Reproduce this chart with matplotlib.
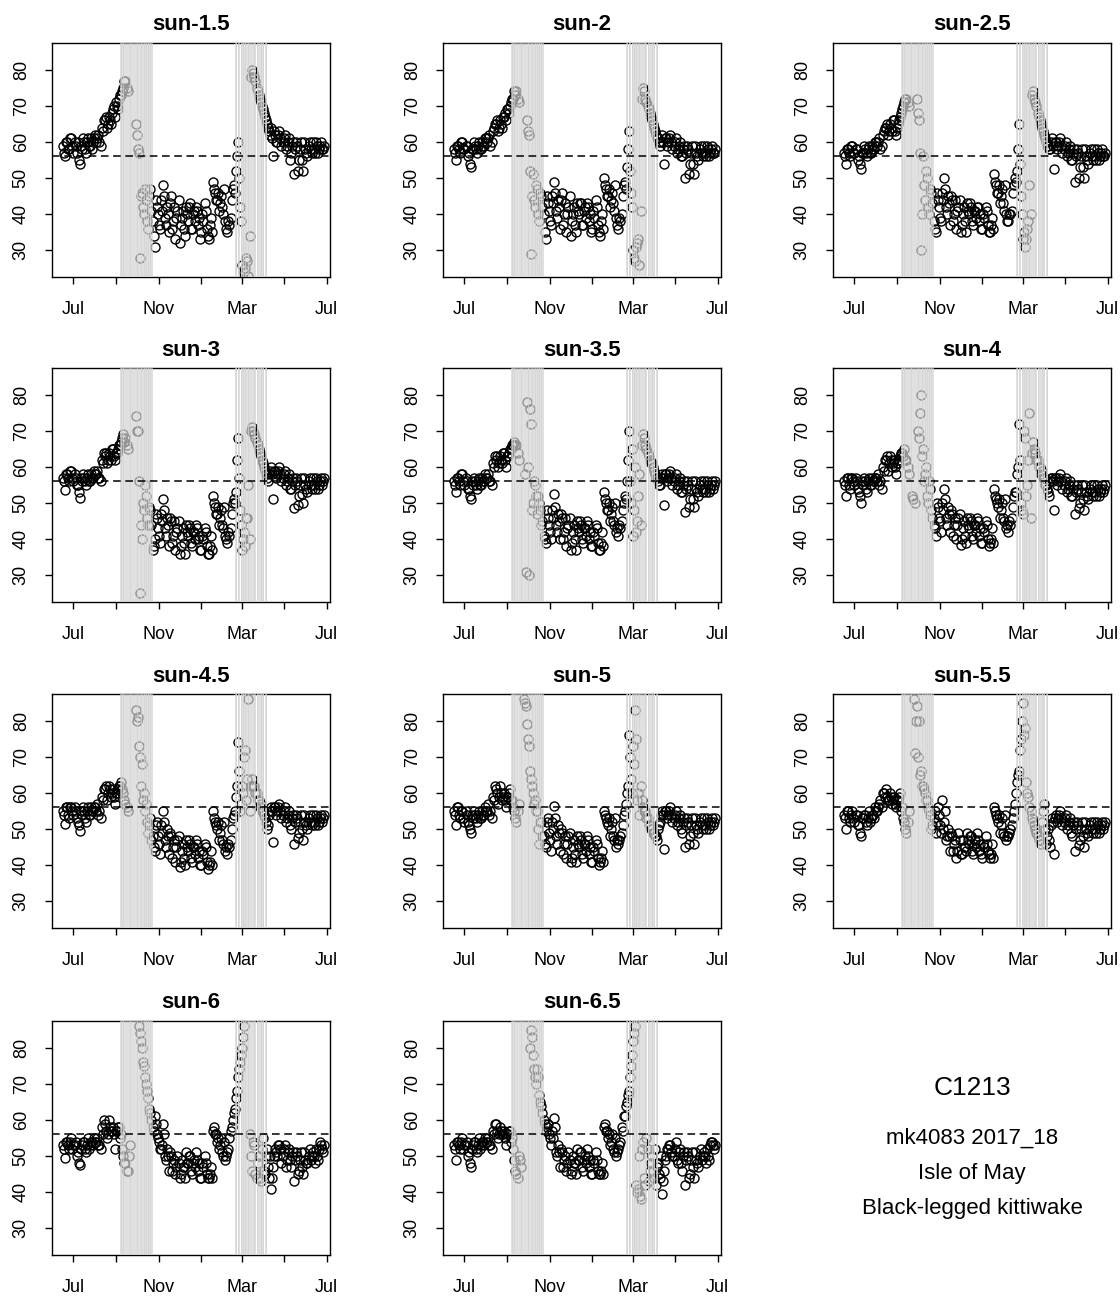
import numpy as np
import pandas as pd
import matplotlib
matplotlib.use("Agg")
import matplotlib.pyplot as plt

plt.rcParams['font.family'] = ['Liberation Sans', 'DejaVu Sans']

nan = np.nan

# two estimates every 3 days (twilight a / twilight b), 16 Jun 2017 .. 27 Jun 2018
dates_a = pd.date_range('2017-06-16', periods=126, freq='3D')
dates_b = pd.date_range('2017-06-17 12:00', periods=126, freq='3D')

titles = ['sun-1.5', 'sun-2', 'sun-2.5', 'sun-3', 'sun-3.5', 'sun-4',
          'sun-4.5', 'sun-5', 'sun-5.5', 'sun-6', 'sun-6.5']

sun_1_5_a = [59, 56, 60, 58, 61, 57, 59, 60, 54, 58,
             60, 57, 61, 59, 58, 61, 60, 62, 59, 63,
             66, 64, 67, 65, 69, 67, 70, 72, 73, 75,
             77, 74, nan, nan, nan, 65, 58, 28, 46, 40,
             44, 36, 47, 38, 31, 42, 37, 44, 48, 39,
             42, 35, 45, 38, 33, 41, 32, 39, 36, 42,
             38, 43, 36, 41, 42, 37, 33, 40, 43, 36,
             33, 39, 49, 46, 44, 41, 45, 40, 38, 35,
             37, 44, 48, 52, 60, 42, 26, 24, 28, 23,
             34, 80, 78, 75, 73, 71, 69, 67, 65, 63,
             64, 56, 62, 60, 63, 59, 61, 58, 60, 55,
             59, 51, 60, 52, 58, 55, 60, 57, 59, 58,
             60, 57, 59, 58, 60, 58]
sun_1_5_b = [57, 60, 58, 61, 59, 60, 57, 55, 59, 61,
             58, 60, 59, 61, 60, 62, 61, 60, 64, 66,
             67, 65, 66, 68, 70, 71, 69, 73, 74, 77,
             75, nan, nan, nan, nan, 62, 57, 45, 42, 47,
             38, 45, 41, 34, 44, 40, 36, 41, 45, 37,
             40, 43, 36, 42, 39, 44, 37, 41, 34, 40,
             42, 36, 40, 38, 41, 39, 35, 38, 41, 34,
             37, 35, 47, 44, 46, 43, 42, 47, 36, 38,
             39, 47, 46, 56, 50, 38, 22, 25, 27, nan,
             78, 79, 77, 74, 72, 70, 68, 66, 64, 62,
             61, 63, 60, 62, 61, 60, 62, 59, 61, 57,
             60, 58, 59, 55, 60, 52, 58, 56, 60, 57,
             58, 60, 57, 59, 58, 59]

sun_2_a = [58, 55, 59, 57, 60, 58, 59, 57, 53, 58,
           59, 57, 60, 58, 59, 61, 60, 62, 60, 64,
           65, 63, 66, 64, 67, 66, 69, 70, 72, 74,
           74, 71, nan, nan, nan, 66, 62, 29, 51, 42,
           47, 38, 45, 40, 33, 43, 38, 45, 49, 41,
           44, 36, 46, 40, 35, 42, 34, 40, 37, 43,
           40, 43, 37, 42, 43, 38, 35, 41, 44, 37,
           34, 40, 50, 47, 45, 42, 46, 41, 39, 36,
           38, 45, 49, 53, 63, 46, 30, 27, 32, 26,
           41, 75, 72, 70, 68, 66, 64, 62, 61, 59,
           62, 54, 61, 60, 62, 58, 60, 57, 59, 56,
           58, 50, 59, 51, 57, 54, 59, 56, 58, 57,
           59, 56, 58, 57, 59, 57]
sun_2_b = [57, 59, 58, 60, 58, 59, 56, 54, 58, 60,
           58, 59, 58, 60, 59, 61, 61, 59, 63, 65,
           66, 64, 65, 67, 68, 69, 68, 71, 72, 73,
           72, nan, nan, nan, nan, 63, 52, 45, 44, 48,
           40, 46, 42, 35, 45, 41, 37, 43, 46, 39,
           42, 44, 37, 43, 40, 45, 38, 42, 35, 41,
           43, 37, 41, 39, 42, 40, 36, 39, 42, 35,
           38, 36, 48, 45, 47, 44, 43, 48, 37, 39,
           40, 48, 47, 58, 52, 42, 28, 31, 33, nan,
           72, 74, 71, 69, 67, 65, 63, 61, 60, 60,
           60, 61, 59, 61, 60, 59, 61, 58, 60, 56,
           59, 57, 58, 54, 59, 51, 57, 55, 59, 56,
           57, 59, 56, 58, 57, 58]

sun_2_5_a = [57, 54, 58, 56, 59, 57, 58, 56, 52.5, 57,
             58, 56, 59, 57, 58, 60, 59, 61, 59, 63,
             64, 62, 65, 63, 66, 62, 65, 67, 69, 71,
             72, 70, nan, nan, nan, 72, 66, 30, 56, 44,
             50, 40, 46, 38, 35, 44, 39, 46, 50, 42,
             45, 37, 44, 40, 36, 42, 35, 40, 38, 43,
             40, 42, 37, 41, 42, 38, 36, 40, 42, 37,
             35, 39, 51, 48, 46, 43, 47, 41, 40, 38,
             40, 46, 50, 52, 65, 45, 33, 31, 36, 48,
             40, 74, 71, 68, 66, 64, 62, 60, 59, 58,
             61, 52.5, 60, 59, 61, 57, 59, 56, 58, 55,
             57, 49, 58, 50, 56, 53, 58, 55, 57, 56,
             58, 55, 57, 56, 58, 56]
sun_2_5_b = [56, 58, 57, 59, 57, 58, 55, 54, 57, 59,
             57, 58, 57, 59, 58, 60, 60, 58, 62, 64,
             65, 63, 64, 66, 63, 64, 66, 68, 70, 72,
             71, nan, nan, nan, nan, 68, 57, 40, 48, 52,
             42, 47, 43, 36, 46, 42, 38, 44, 47, 40,
             43, 45, 38, 44, 41, 44, 37, 42, 35, 41,
             43, 38, 41, 39, 42, 40, 36, 39, 41, 35,
             37, 36, 49, 46, 48, 45, 43, 48, 38, 40,
             41, 48, 49, 58, 54, 40, 35, 33, 38, nan,
             73, 72, 70, 67, 65, 63, 61, 59, 58, 60,
             59, 60, 58, 60, 59, 58, 60, 57, 59, 55,
             58, 56, 57, 53, 58, 50, 56, 54, 58, 55,
             56, 58, 55, 57, 56, 57]

sun_3_a = [57, 53.5, 58, 56, 59, 56, 57, 55, 51.5, 56,
           57, 55, 58, 56, 57, 59, 58, 57, 56, 61,
           63, 61, 64, 62, 65, 62, 64, 66, 67, 69,
           68, 65, nan, nan, nan, 74, 70, 25, 40, 48,
           52, 44, 48, 37, 40, 46, 41, 47, 51, 43,
           46, 38, 45, 41, 37, 43, 36, 41, 39, 44,
           41, 43, 38, 42, 44, 40, 37, 41, 43, 38,
           36, 41, 52, 49, 47, 44, 48, 43, 41, 39,
           41, 47, 51, 53, 68, 48, 37, 42, 46, 55,
           40, 71, 69, 67, 65, 63, 61, 59, 57, 58,
           60, 51, 59, 58, 60, 56, 58, 55, 57, 54,
           56, 48.5, 57, 49.5, 55, 52.5, 57, 54, 56, 55,
           57, 54, 56, 55, 57, 56]
sun_3_b = [56, 58, 57, 59, 57, 58, 55, 53, 57, 58,
           56, 57, 56, 58, 57, 58, 59, 57, 62, 64,
           64, 62, 63, 65, 63, 64, 65, 66, 68, 67,
           66, nan, nan, nan, nan, 70, 56, 44, 50, 55,
           46, 49, 44, 38, 47, 43, 39, 45, 48, 41,
           44, 46, 39, 45, 42, 45, 38, 43, 36, 42,
           44, 39, 42, 40, 43, 41, 37, 40, 42, 36,
           38, 37, 50, 47, 49, 46, 44, 49, 40, 42,
           43, 50, 50, 62, 57, 44, 40, 38, 46, nan,
           70, 70, 68, 66, 64, 62, 60, 58, 56, 59,
           58, 59, 57, 59, 58, 57, 59, 56, 58, 54,
           57, 55, 56, 52, 57, 50, 55, 53, 57, 54,
           55, 57, 54, 56, 55, 57]

sun_3_5_a = [56, 53, 57, 55, 58, 55, 56, 54, 51, 55,
             56, 54, 57, 55, 56, 58, 57, 56, 55, 60,
             62, 60, 63, 61, 64, 60, 63, 65, 66, 67,
             66, 62, nan, nan, 58, 78, 30, 72, 50, 55,
             47, 50, 44, 41, 39, 46, 42, 48, 52.5, 44,
             47, 40, 46, 42, 38, 44, 37, 42, 40, 45,
             42, 44, 39, 43, 45, 40, 38, 42, 44, 39,
             37, 42, 53, 50, 48, 45, 49, 44, 42, 41,
             43, 48, 52, 56, 70, 50, 41, 60, 45, 58,
             44, 69, 66, 64, 62, 61, 59, 57, 56, 55,
             58, 49.5, 58, 57, 59, 55, 57, 54, 56, 53,
             55, 47.5, 56, 49, 54, 51, 56, 53, 55, 54,
             56, 53, 55, 54, 56, 55]
sun_3_5_b = [55, 57, 56, 58, 56, 57, 54, 52, 56, 57,
             55, 56, 55, 57, 56, 57, 58, 56, 61, 63,
             63, 61, 62, 64, 62, 63, 64, 65, 66, 66,
             64, nan, nan, nan, 31, 60, 76, 48, 56, 52,
             52, 48, 45, 40, 48, 44, 40, 46, 49, 42,
             45, 47, 40, 46, 43, 46, 39, 44, 37, 43,
             45, 40, 43, 41, 44, 42, 38, 41, 43, 37,
             39, 38, 51, 48, 50, 47, 45, 50, 43, 44,
             45, 50, 51, 62, 56, 65, 48, 42, 52, nan,
             66, 68, 65, 63, 61, 60, 58, 57, 55, 57,
             57, 58, 56, 58, 57, 56, 58, 55, 57, 53,
             56, 54, 55, 51, 56, 49, 54, 52, 56, 53,
             54, 56, 53, 55, 54, 56]

sun_4_a = [56, 52, 57, 54, 57, 55, 56, 53, 50, 55,
           56, 53, 57, 55, 56, 57, 56, 55, 54, 59,
           62, 59, 63, 60, 62, 58, 61, 63, 64, 65,
           62, 58, nan, 51, 50, nan, 68, 80, 65, 58,
           52, 56, 48, 44, 41, 49, 45, 50, 54, 46,
           49, 42, 47, 44, 40, 46, 38.5, 43, 41, 46,
           43, 45, 40, 44, 46, 41, 39, 43, 45, 40,
           39, 43, 54, 51, 49, 46, 50, 45, 43, 42,
           44, 49, 53, 58, 72, 50, 47, 68, 55, 75,
           46, 67, 64, 62, 60, 59, 57, 55, 53, 56,
           57, 48, 57, 56, 58, 54, 56, 53, 55, 52,
           54, 47, 55, 48.5, 53, 51, 55, 52, 54, 53,
           55, 52, 54, 53, 55, 54]
sun_4_b = [55, 57, 55, 57, 56, 57, 54, 52, 56, 57,
           54, 56, 55, 57, 56, 57, 58, 56, 60, 62,
           63, 61, 62, 61, 60, 61, 62, 64, 63, 62,
           60, nan, 52, nan, nan, 70, 75, 63, 56, 60,
           50, 54, 46, 43, 50, 46, 42, 48, 51, 44,
           47, 48, 41, 46, 44, 47, 40, 45, 39, 44,
           46, 41, 44, 42, 45, 43, 39, 42, 44, 38,
           40, 39, 52, 50, 51, 48, 46, 51, 44, 45,
           46, 52, 53, 60, 62, 48, 70, 52, 62, nan,
           64, 65, 62, 60, 58, 57, 55, 54, 52, 57,
           56, 57, 55, 57, 56, 55, 57, 54, 56, 52,
           55, 53, 54, 50, 55, 48, 53, 51, 55, 52,
           53, 55, 52, 54, 53, 55]

sun_4_5_a = [55, 51.5, 56, 53, 56, 54, 55, 52, 49.5, 54,
             55, 52, 56, 54, 55, 56, 55, 54, 53, 58,
             61, 58, 62, 59, 61, 57, 60, 62, 63, 60,
             57, 55, nan, nan, nan, 83, 81, 70, 68, 60,
             57, 49, 53, 48, 44, 52, 46, 51, 55, 47,
             50, 43, 48, 45, 41, 47, 39.5, 44, 42, 47,
             44, 46, 41, 45, 47, 42, 40, 44, 46, 41,
             40, 44, 55, 52, 50, 47, 51, 46, 44, 43,
             45, 50, 54, 59, 74, 55, 62, 70, 58, 86,
             55, 64, 62, 60, 58, 57, 55, 53, 50, 54,
             56, 46.5, 56, 55, 57, 53, 55, 52, 54, 51,
             53, 46, 54, 47.5, 52, 50, 54, 51, 53, 52,
             54, 51, 53, 52, 54, 53]
sun_4_5_b = [54, 56, 54, 56, 55, 56, 53, 51, 55, 56,
             53, 55, 54, 56, 55, 56, 57, 55, 59, 61,
             62, 60, 61, 60, 59, 60, 61, 62, 61, 58,
             56, nan, nan, nan, nan, 80, 73, 62, 58, 55,
             52, 51, 47, 45, 51, 48, 43, 49, 52, 45,
             48, 49, 42, 47, 45, 48, 41, 46, 40, 45,
             47, 42, 45, 43, 46, 44, 40, 43, 45, 39,
             41, 40, 53, 51, 52, 49, 47, 52, 45, 46,
             47, 53, 55, 62, 66, 57, 60, 72, 64, nan,
             62, 62, 60, 58, 56, 55, 54, 52, 51, 55,
             55, 56, 54, 56, 55, 54, 56, 53, 55, 50,
             54, 52, 53, 49, 54, 47, 52, 50, 54, 51,
             52, 54, 51, 53, 52, 54]

sun_5_a = [55, 51, 56, 53, 55, 52, 54, 51, 49, 53,
           54, 52, 55, 53, 54, 56, 55, 54, 53, 58,
           61, 57, 62, 58, 60, 56, 59, 61, 58, 55,
           52, 57, nan, nan, 85, 79, 73, 64, 60, 58,
           55, 46, 52, 48, 45, 53, 47, 52, 56.5, 48,
           51, 44, 49, 46, 42, 48, 41, 45, 43, 48,
           45, 47, 42, 46, 48, 43, 41, 45, 47, 42,
           41, 44, 55, 53, 51, 48, 52, 47, 45, 46,
           48, 51, 55, 60, 76, 64, 73, 83, 58, 54,
           62, 56, 55, 53, 51, 50, 49, 48, 50, 52,
           55, 44.5, 55, 54, 56, 52, 54, 51, 53, 50,
           52, 45, 53, 46, 51, 49, 53, 50, 52, 51,
           53, 50, 52, 51, 53, 52]
sun_5_b = [54, 56, 54, 55, 53, 55, 52, 50, 54, 55,
           53, 54, 53, 55, 54, 55, 57, 55, 59, 62,
           60, 59, 60, 59, 58, 59, 60, 58, 56, 53,
           55, nan, nan, 86, 84, 75, 66, 62, 57, 55,
           50, 52, 48, 46, 52, 49, 44, 50, 53, 46,
           49, 50, 43, 48, 46, 49, 42, 47, 41, 46,
           48, 43, 46, 44, 47, 45, 41, 44, 46, 40,
           42, 41, 54, 52, 53, 50, 48, 53, 47, 47,
           49, 54, 57, 62, 70, 60, 68, 75, 60, nan,
           58, 55, 53, 51, 50, 49, 48, 47, 51, 54,
           54, 55, 53, 55, 54, 53, 55, 52, 54, 49,
           53, 51, 52, 48, 53, 46, 51, 49, 53, 50,
           51, 53, 50, 52, 51, 53]

sun_5_5_a = [54, 50, 55, 52, 55, 52, 54, 51, 48, 53,
             54, 51, 55, 53, 54, 56, 55, 57, 56, 60,
             61, 58, 60, 57, 59, 56, 58, 60, 56, 52,
             49, 55, nan, nan, 71, 84, 80, 66, 62, 60,
             58, 55, 50, 53, 49, 56, 51, 58, 52, 47,
             50, 44, 48, 46, 42, 49, 43, 47, 45, 49,
             46, 48, 43, 47, 49, 44, 43, 46, 48, 44,
             42, 46, 56, 54, 52, 49, 53, 48, 47, 48,
             50, 53, 57, 63, 66, 75, 85, 78, 60, 56,
             55, 52, 50, 48, 47, 52, 57, 46, 50, 45,
             53, 43, 54, 53, 55, 51, 53, 50, 52, 49,
             51, 44, 52, 45.5, 50, 48, 52, 49, 51, 50,
             52, 49, 51, 50, 52, 51]
sun_5_5_b = [53, 55, 53, 54, 53, 54, 51, 49, 53, 54,
             52, 53, 52, 54, 53, 55, 56, 58, 60, 59,
             59, 58, 59, 58, 57, 58, 59, 55, 53, 50,
             52, nan, nan, 86, 80, 70, 65, 62, 61, 58,
             56, 54, 51, 55, 52, 54, 49, 50, 55, 48,
             48, 49, 44, 47, 44, 47, 43, 45, 44, 47,
             48, 44, 46, 45, 47, 46, 42, 45, 46, 43,
             43, 42, 55, 53, 54, 51, 49, 54, 48, 49,
             51, 55, 60, 65, 72, 80, 76, 63, 59, nan,
             53, 51, 49, 47, 46, 55, 50, 48, 47, 51,
             52, 53, 52, 54, 53, 52, 54, 51, 53, 48,
             52, 50, 51, 47, 52, 45, 50, 48, 52, 49,
             50, 52, 49, 51, 50, 52]

sun_6_a = [53, 49.5, 54, 52, 55, 53, 54, 51, 47.5, 53,
           54, 51, 55, 53, 54, 55, 54, 53, 52, 56,
           59, 55, 60, 57, 58, 52, 57, 58, 56, 50,
           48, 46, 53, nan, nan, nan, nan, 84, 80, 75,
           70, 66, 62, 58, 61, 56, 54, 52, 59, 50,
           52, 46, 50, 48, 45, 50, 44, 49, 47, 51,
           48, 50, 45, 49, 51, 46, 44, 48, 50, 45,
           44, 47, 57, 56, 54, 52, 55, 50, 49, 51,
           55, 58, 62, 66, 72, 76, 80, 86, nan, nan,
           56, 46, 53, 44, 50, 43, 55, 45, 52, 44,
           41, 47, 52, 50, 53, 48, 52, 47, 51, 49,
           50, 43, 51, 45, 49, 47, 51, 48, 50, 49,
           51, 48, 50, 52, 53, 51]
sun_6_b = [52, 54, 53, 54, 52, 53, 50, 48, 52, 54,
           52, 53, 52, 54, 53, 54, 55, 53, 58, 60,
           57, 56, 58, 57, 56, 57, 58, 55, 52, 48,
           46, 50, nan, nan, nan, nan, 86, 82, 76, 72,
           68, 63, 60, 57, 59, 55, 52, 53, 56, 49,
           50, 51, 46, 49, 47, 48, 45, 47, 44, 48,
           50, 46, 48, 47, 49, 48, 44, 47, 48, 44,
           45, 44, 58, 56, 55, 53, 51, 54, 50, 52,
           57, 60, 63, 68, 74, 78, 83, nan, nan, nan,
           50, 54, 45, 48, 44, 52, 46, 50, 47, 50,
           44, 50, 51, 53, 52, 50, 53, 49, 52, 47,
           51, 49, 50, 46, 51, 45, 49, 48, 52, 50,
           50, 52, 49, 54, 52, 53]

sun_6_5_a = [53, 49, 54, 52, 55, 53, 54, 51, 47, 53,
             54, 51, 55, 53, 54, 55, 54, 53, 52, 56,
             59, 55, 58, 56, 57, 53, 56, 57, 55, 49,
             45, 50, 47, nan, nan, nan, nan, 85, 78, 72,
             74, 67, 64, 60, 57, 59, 55, 57, 60.5, 51,
             53, 47, 51, 49, 46, 51, 45, 50, 48, 52,
             49, 51, 46, 50, 52, 47, 45, 49, 51, 46,
             45, 48, 58, 57, 55, 53, 56, 51, 50, 52,
             54, 57, 61, 65, 68, 75, 82, 86, 40, 50,
             38, 54, 42, 52, 46, 50, 44, 42, 48, 44,
             39.5, 46, 50, 52, 53, 50, 52, 49, 51, 48,
             50, 42, 51, 44, 49, 47, 51, 48, 50, 49,
             51, 48, 50, 53, 54, 52]
sun_6_5_b = [52, 54, 53, 54, 52, 53, 50, 48, 52, 54,
             52, 53, 52, 54, 53, 54, 55, 53, 57, 59,
             57, 56, 57, 56, 55, 56, 57, 54, 52, 46,
             44, 49, nan, nan, nan, nan, 80, 83, 74, 70,
             72, 65, 62, 59, 58, 56, 53, 55, 58, 50,
             51, 52, 47, 50, 48, 49, 46, 48, 45, 49,
             51, 47, 49, 48, 50, 49, 45, 48, 49, 45,
             46, 45, 59, 57, 56, 54, 52, 55, 51, 53,
             58, 61, 64, 67, 72, 78, 84, 42, 41, 39,
             52, 44, 55, 43, 48, 46, 52, 47, 45, 50,
             43, 49, 52, 53, 51, 50, 54, 48, 52, 46,
             51, 49, 50, 45, 51, 44, 49, 47, 52, 50,
             50, 52, 49, 54, 53, 53]

series_a = [sun_1_5_a, sun_2_a, sun_2_5_a, sun_3_a, sun_3_5_a, sun_4_a,
            sun_4_5_a, sun_5_a, sun_5_5_a, sun_6_a, sun_6_5_a]
series_b = [sun_1_5_b, sun_2_b, sun_2_5_b, sun_3_b, sun_3_5_b, sun_4_b,
            sun_4_5_b, sun_5_b, sun_5_5_b, sun_6_b, sun_6_5_b]

# days flagged around the equinoxes
eq_sep = [6, 7, 8, 9, 10, 11, 12, 13, 15, 16, 17, 19, 20, 21, 22, 23, 25, 26, 28, 29, 30]
eq_oct = [1, 2, 4, 5, 6, 7, 8, 9, 10, 11, 12, 13, 14, 15, 16, 17, 18, 19, 20, 21, 22]
eq_feb = [19, 20, 21, 23, 24, 25, 27, 28]
eq_mar = [1, 2, 3, 4, 5, 6, 7, 8, 9, 10, 11, 13, 14, 16, 17, 18, 19, 20, 22, 23,
          24, 26, 27, 28, 29, 30, 31]
eq_apr = [1, 3, 4, 5]
eq_days = ([pd.Timestamp(2017, 9, d) for d in eq_sep] +
           [pd.Timestamp(2017, 10, d) for d in eq_oct] +
           [pd.Timestamp(2018, 2, d) for d in eq_feb] +
           [pd.Timestamp(2018, 3, d) for d in eq_mar] +
           [pd.Timestamp(2018, 4, d) for d in eq_apr])

colony_lat = 56.2

tick_dates = pd.to_datetime(['2017-07-01', '2017-09-01', '2017-11-01', '2018-01-01',
                             '2018-03-01', '2018-05-01', '2018-07-01'])
tick_labels = ['Jul', '', 'Nov', '', 'Mar', '', 'Jul']

fig = plt.figure(figsize=(11.2, 12.97), dpi=100)
FW, FH = 1120, 1297
lefts = [52, 443, 833]
tops = [43, 368, 694, 1021]
W, H = 278, 234

for k, title in enumerate(titles):
    r, c = divmod(k, 3)
    ax = fig.add_axes([lefts[c] / FW, 1 - (tops[r] + H) / FH, W / FW, H / FH])
    for d, v in ((dates_a, series_a[k]), (dates_b, series_b[k])):
        ax.plot(d, v, 'o', mfc='none', mec='black', ms=6.5, mew=1.0, zorder=2)
    for d in eq_days:
        ax.axvline(d, color='#d3d3d3', lw=0.5, zorder=3)
    ax.axhline(colony_lat, color='black', lw=1.1, ls=(0, (5, 3)), zorder=4)

    ax.set_xlim(pd.Timestamp('2017-05-31'), pd.Timestamp('2018-07-06'))
    ax.set_ylim(22.6, 87.4)
    ax.set_xticks(tick_dates)
    ax.set_xticklabels(tick_labels)
    ax.set_yticks([30, 40, 50, 60, 70, 80])
    ax.tick_params(axis='both', length=5, width=1.0, labelsize=13, color='black')
    ax.tick_params(axis='x', pad=12)
    ax.tick_params(axis='y', pad=11, labelrotation=90)
    for lab in ax.get_yticklabels():
        lab.set_va('center')
    for sp in ax.spines.values():
        sp.set_linewidth(1.0)
    ax.set_title(title, fontsize=16, fontweight='bold', pad=9)

fig.text(972 / FW, 1 - 1095 / FH, 'C1213', ha='center', va='baseline', fontsize=19)
fig.text(972 / FW, 1 - 1144 / FH, 'mk4083 2017_18', ha='center', va='baseline', fontsize=16)
fig.text(972 / FW, 1 - 1179 / FH, 'Isle of May', ha='center', va='baseline', fontsize=16)
fig.text(972 / FW, 1 - 1214 / FH, 'Black-legged kittiwake', ha='center', va='baseline', fontsize=16)

fig.savefig('out.png', dpi=100)
